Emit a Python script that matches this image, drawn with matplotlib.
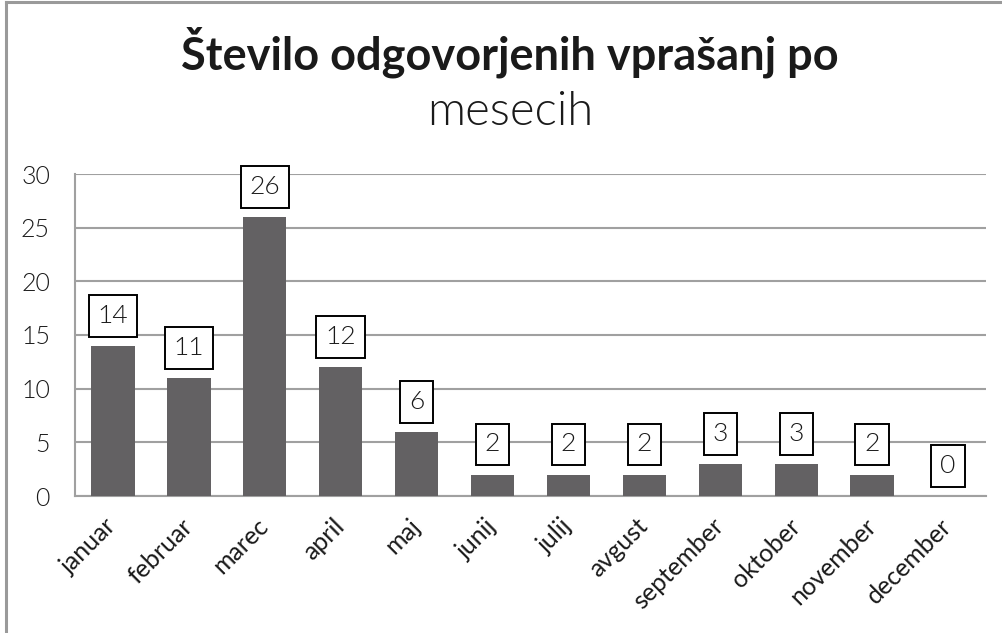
import matplotlib
matplotlib.use("Agg")
import matplotlib.pyplot as plt
from matplotlib.lines import Line2D

months = ["januar", "februar", "marec", "april", "maj", "junij", "julij",
          "avgust", "september", "oktober", "november", "december"]
answered = [14, 11, 26, 12, 6, 2, 2, 2, 3, 3, 2, 0]
y_ticks = [0, 5, 10, 15, 20, 25, 30]

W, H = 1003, 633
fig = plt.figure(figsize=(W / 100, H / 100), dpi=100)
fig.patch.set_facecolor("white")

# outer chart frame (top and left edges)
fig.add_artist(Line2D([6 / W, 1.0], [1 - 2 / H, 1 - 2 / H], color="#9a9a9a", lw=2.2))
fig.add_artist(Line2D([6 / W, 6 / W], [0, 1 - 2 / H], color="#9a9a9a", lw=2.2))

ax = fig.add_axes([75 / W, (H - 496) / H, (986 - 75) / W, (496 - 174) / H])
x = list(range(len(months)))
ax.bar(x, answered, width=0.57, color="#636163", zorder=3)
ax.set_xlim(-0.5, len(months) - 0.5)
ax.set_ylim(0, 30)
ax.set_yticks(y_ticks)
ax.set_yticklabels([str(v) for v in y_ticks], fontsize=18, family="Lato",
                   fontweight=300, color="#1a1a1a")
ax.yaxis.grid(True, color="#a0a0a0", lw=1.5, zorder=0)
ax.tick_params(axis="both", length=0)
ax.tick_params(axis="y", pad=18)
for s in ["top", "right"]:
    ax.spines[s].set_visible(False)
ax.spines["left"].set_color("#a0a0a0")
ax.spines["left"].set_linewidth(1.5)
ax.spines["bottom"].set_color("#a0a0a0")
ax.spines["bottom"].set_linewidth(1.5)

ax.set_xticks(x)
ax.set_xticklabels(months, rotation=45, ha="right", va="center",
                   rotation_mode="anchor", fontsize=18, family="Lato",
                   color="#1a1a1a")
ax.tick_params(axis="x", pad=19)

for xi, v in zip(x, answered):
    ax.annotate(str(v), (xi, v), xytext=(0, 13), textcoords="offset points",
                ha="center", va="bottom", fontsize=19, family="Lato",
                fontweight=300, color="#1a1a1a", zorder=5,
                bbox=dict(boxstyle="square,pad=0.34", fc="white", ec="black", lw=1.4))

fig.text(510 / W, 1 - 52 / H, "Število odgovorjenih vprašanj po", ha="center",
         va="center", fontsize=32.5, fontweight="bold", family="Lato", color="#1a1a1a")
fig.text(510 / W, 1 - 112 / H, "mesecih", ha="center", va="center",
         fontsize=34, fontweight=300, family="Lato", color="#1a1a1a")

fig.savefig("out.png", dpi=100, facecolor="white")
